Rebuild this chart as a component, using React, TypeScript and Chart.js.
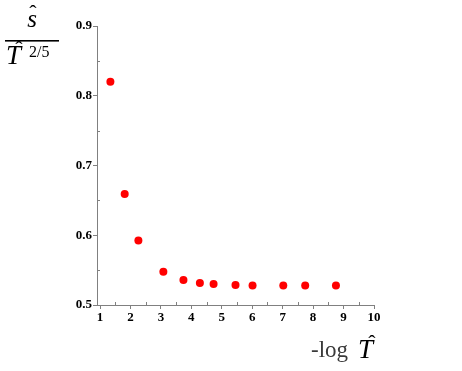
import React, { useEffect, useRef } from "react";
import { Chart, registerables } from "chart.js";

Chart.register(...registerables);

const xValues = [1.34, 1.81, 2.26, 3.08, 3.74, 4.28, 4.73, 5.45, 6.01, 7.02, 7.74, 8.75];
const yValues = [0.82, 0.659, 0.5925, 0.5475, 0.536, 0.5317, 0.53, 0.5288, 0.528, 0.528, 0.528, 0.528];
const xTicks = [1, 2, 3, 4, 5, 6, 7, 8, 9, 10];
const yTicks = [0.5, 0.6, 0.7, 0.8, 0.9];
const xMinor = [1.5, 2.5, 3.5, 4.5, 5.5, 6.5, 7.5, 8.5, 9.5];
const yMinor = [0.55, 0.65, 0.75, 0.85];

const SERIF = '"Liberation Serif", "DejaVu Serif", serif';

const decorPlugin = {
  id: "decor",
  afterDraw(chart: any) {
    const ctx = chart.ctx;
    const xs = chart.scales.x;
    const ys = chart.scales.y;
    const axisX = chart.chartArea.left;
    const axisY = chart.chartArea.bottom;
    ctx.save();
    // minor ticks
    ctx.strokeStyle = "#808080";
    ctx.lineWidth = 1;
    ctx.beginPath();
    xMinor.forEach((v) => {
      const px = Math.round(xs.getPixelForValue(v)) + 0.5;
      ctx.moveTo(px, axisY);
      ctx.lineTo(px, axisY - 3);
    });
    yMinor.forEach((v) => {
      const py = Math.round(ys.getPixelForValue(v)) + 0.5;
      ctx.moveTo(axisX, py);
      ctx.lineTo(axisX + 3, py);
    });
    ctx.stroke();

    // y-axis title: fraction s-hat / T-hat^{2/5}
    ctx.fillStyle = "#000";
    ctx.textBaseline = "alphabetic";
    ctx.textAlign = "center";
    ctx.font = "italic 25px " + SERIF;
    ctx.fillText("s", 32, 27);
    ctx.font = "22px " + SERIF;
    ctx.fillText("\u02C6", 33, 20);
    ctx.fillRect(5, 40, 54, 1.6);
    ctx.textAlign = "left";
    ctx.font = "italic 27px " + SERIF;
    ctx.fillText("T", 6, 64);
    ctx.font = "22px " + SERIF;
    ctx.textAlign = "center";
    ctx.fillText("\u02C6", 19, 56);
    ctx.textAlign = "left";
    ctx.font = "16px " + SERIF;
    ctx.fillText("2/5", 29, 57);

    // x-axis title: -log T-hat
    ctx.fillStyle = "#3a3a3a";
    ctx.font = "23px " + SERIF;
    ctx.textAlign = "left";
    ctx.fillText("-log", 311, 357);
    ctx.fillStyle = "#000";
    ctx.font = "italic 27px " + SERIF;
    ctx.fillText("T", 358, 358);
    ctx.font = "22px " + SERIF;
    ctx.textAlign = "center";
    ctx.fillText("\u02C6", 372, 350);
    ctx.restore();
  },
};

export default function App() {
  const ref = useRef<HTMLCanvasElement | null>(null);
  useEffect(() => {
    if (!ref.current) return;
    const chart = new Chart(ref.current, {
      type: "scatter",
      data: {
        datasets: [
          {
            data: xValues.map((x, i) => ({ x, y: yValues[i] })),
            backgroundColor: "#ff0000",
            borderColor: "#ff0000",
            pointRadius: 4,
            pointBorderWidth: 0,
          },
        ],
      },
      options: {
        responsive: false,
        animation: false,
        layout: { padding: { top: 26, right: 88, left: 0, bottom: 0 } },
        plugins: { legend: { display: false }, tooltip: { enabled: false } },
        scales: {
          x: {
            type: "linear",
            min: 0.9,
            max: 10,
            afterBuildTicks: (s: any) => {
              s.ticks = xTicks.map((v) => ({ value: v }));
            },
            afterFit: (s: any) => {
              s.height = 66;
            },
            grid: {
              drawOnChartArea: false,
              tickLength: 4,
              color: "#808080",
            },
            border: { color: "#808080", width: 1 },
            ticks: {
              color: "#000",
              padding: 1,
              maxRotation: 0,
              autoSkip: false,
              font: { family: SERIF, size: 13, weight: "bold" },
              callback: (v: any) => String(v),
            },
          },
          y: {
            type: "linear",
            min: 0.5,
            max: 0.9,
            afterBuildTicks: (s: any) => {
              s.ticks = yTicks.map((v) => ({ value: v }));
            },
            afterFit: (s: any) => {
              s.width = 97;
            },
            grid: {
              drawOnChartArea: false,
              tickLength: 4,
              color: "#808080",
            },
            border: { color: "#808080", width: 1 },
            ticks: {
              color: "#000",
              padding: 1,
              autoSkip: false,
              font: { family: SERIF, size: 13, weight: "bold" },
              callback: (v: any) => Number(v).toFixed(1),
            },
          },
        },
      },
      plugins: [decorPlugin],
    } as any);
    return () => chart.destroy();
  }, []);
  return (
    <div style={{ position: "fixed", left: 0, top: 0, width: 462, height: 371, background: "#fff" }}>
      <canvas ref={ref} width={462} height={371} style={{ display: "block" }} />
    </div>
  );
}
